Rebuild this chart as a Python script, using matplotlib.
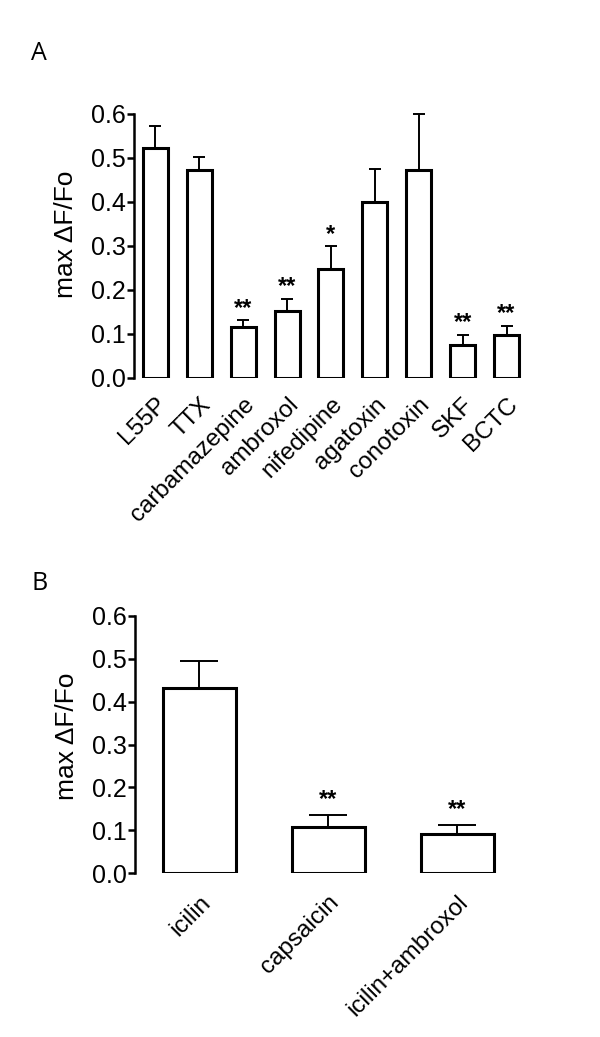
"""Bar charts of max dF/Fo for blocker treatments (panels A and B)."""

import matplotlib
matplotlib.use("Agg")
import matplotlib.pyplot as plt
import matplotlib.transforms as mtransforms
import numpy as np

plt.rcParams["font.family"] = ["Liberation Sans", "DejaVu Sans"]

# panel A data
a_labels = ["L55P", "TTX", "carbamazepine", "ambroxol", "nifedipine",
            "agatoxin", "conotoxin", "SKF", "BCTC"]
a_means = [0.522, 0.472, 0.115, 0.153, 0.247, 0.399, 0.473, 0.075, 0.098]
a_errs = [0.051, 0.030, 0.017, 0.027, 0.052, 0.076, 0.127, 0.023, 0.021]
a_stars = ["", "", "**", "**", "*", "", "", "**", "**"]

# panel B data
b_labels = ["icilin", "capsaicin", "icilin+ambroxol"]
b_means = [0.433, 0.108, 0.092]
b_errs = [0.063, 0.029, 0.021]
b_stars = ["", "**", "**"]

y_ticks = [0.0, 0.1, 0.2, 0.3, 0.4, 0.5, 0.6]


def draw_panel(fig, rect, labels, means, errs, stars, width, capsize,
               xpad, label_dx, label_pad, star_gap, ylabel_pos):
    ax = fig.add_axes(rect)
    x = np.arange(len(labels))
    ax.bar(x, means, width=width, color="white", edgecolor="black",
           linewidth=2.2, zorder=3)
    ax.errorbar(x, means, yerr=[np.zeros(len(errs)), errs], fmt="none",
                ecolor="black", elinewidth=1.4, capsize=capsize,
                capthick=1.4, zorder=2, clip_on=False)
    for xi, m, e, s in zip(x, means, errs, stars):
        if s:
            ax.text(xi, m + e + star_gap, s, ha="center", va="center",
                    fontsize=17, fontweight="bold")

    ax.set_xlim(-xpad, len(labels) - 1 + xpad)
    ax.set_ylim(0, 0.6)
    ax.set_yticks(y_ticks)
    ax.set_yticklabels([f"{t:.1f}" for t in y_ticks])
    ax.set_xticks(x)
    ax.set_xticklabels(labels, rotation=45, ha="right", va="top",
                       rotation_mode="anchor")
    offset = mtransforms.ScaledTranslation(label_dx / 100, 0, fig.dpi_scale_trans)
    for lab in ax.get_xticklabels():
        lab.set_transform(lab.get_transform() + offset)

    for side in ["top", "right", "bottom"]:
        ax.spines[side].set_visible(False)
    ax.spines["left"].set_linewidth(1.8)
    ax.tick_params(axis="y", direction="out", length=5, width=1.8,
                   labelsize=18, pad=1)
    ax.tick_params(axis="x", length=0, labelsize=17.5, pad=label_pad)
    ax.set_ylabel("max \u0394F/Fo", fontsize=19)
    ax.yaxis.set_label_coords(*ylabel_pos)
    return ax


fig = plt.figure(figsize=(6.0, 10.37), dpi=100)

draw_panel(fig, [0.2233, 0.6355, 0.6567, 0.2546], a_labels, a_means, a_errs,
           a_stars, width=0.57, capsize=4.3, xpad=0.49, label_dx=2,
           label_pad=11, star_gap=0.027, ylabel_pos=(-0.141, 0.545))
draw_panel(fig, [0.225, 0.1579, 0.6442, 0.2481], b_labels, b_means, b_errs,
           b_stars, width=0.566, capsize=13.6, xpad=0.5, label_dx=2,
           label_pad=13, star_gap=0.035, ylabel_pos=(-0.146, 0.532))

fig.text(31 / 600, 1 - 60 / 1037, "A", fontsize=18, family="Open Sans")
fig.text(32 / 600, 1 - 590 / 1037, "B", fontsize=18, family="Open Sans")

fig.savefig("out.png", dpi=100)
plt.close(fig)
